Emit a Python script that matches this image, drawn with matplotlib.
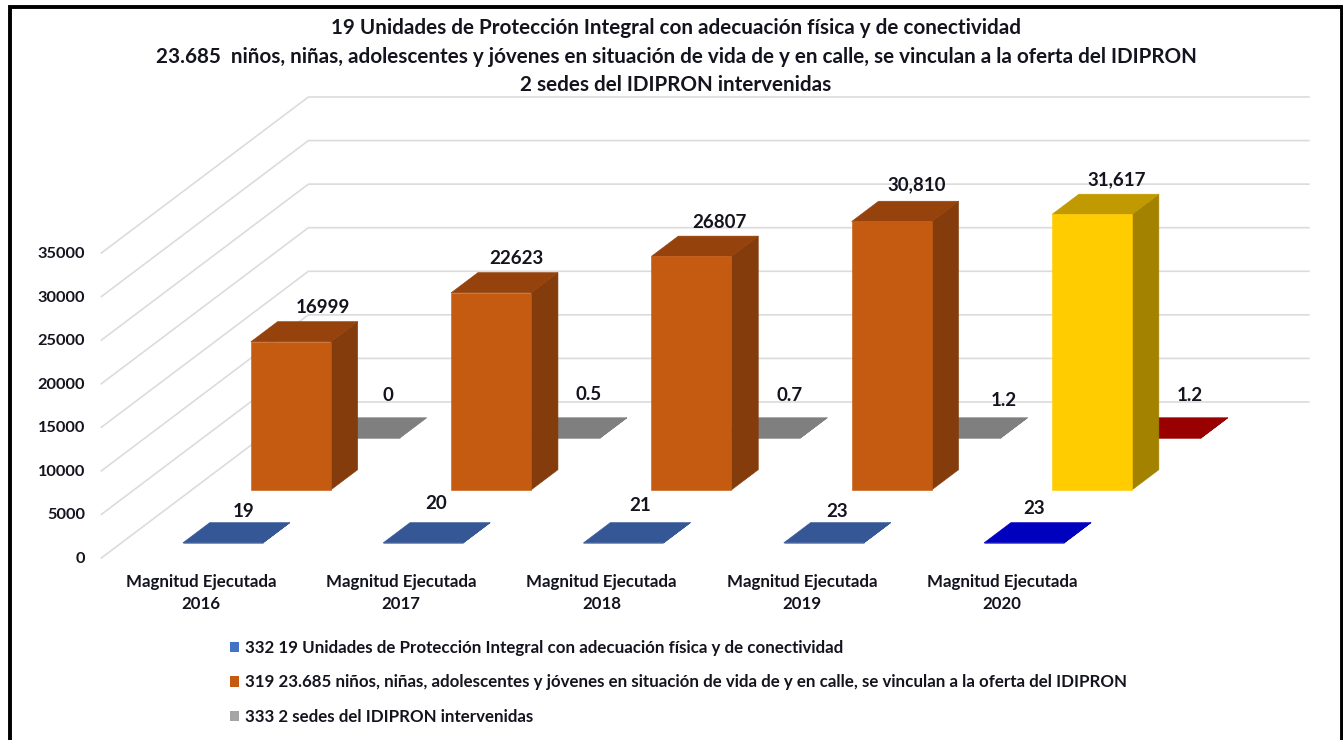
import matplotlib
matplotlib.use("Agg")

import matplotlib.pyplot as plt
from matplotlib.lines import Line2D
from matplotlib.patches import Patch, Polygon

# dane
YEARS = ["2016", "2017", "2018", "2019", "2020"]
SEDES = [0, 0.5, 0.7, 1.2, 1.2]
SEDES_TXT = ["0", "0.5", "0.7", "1.2", "1.2"]
NINOS = [16999, 22623, 26807, 30810, 31617]
NINOS_TXT = ["16999", "22623", "26807", "30,810", "31,617"]
UNIDADES = [19, 20, 21, 23, 23]
UNIDADES_TXT = ["19", "20", "21", "23", "23"]
Y_TICKS = [0, 5000, 10000, 15000, 20000, 25000, 30000, 35000]

TITLE = [
    "19 Unidades de Protección Integral con adecuación física y de conectividad",
    "23.685  niños, niñas, adolescentes y jóvenes en situación de vida de y en calle, se vinculan a la oferta del IDIPRON",
    "2 sedes del IDIPRON intervenidas",
]
LEGEND = [
    "332 19 Unidades de Protección Integral con adecuación física y de conectividad",
    "319 23.685 niños, niñas, adolescentes y jóvenes en situación de vida de y en calle, se vinculan a la oferta del IDIPRON",
    "333 2 sedes del IDIPRON intervenidas",
]

# uklad rzutu ukosnego
W, H = 1343, 740
PX_PER_CAT = 200.3
PX_PER_VAL = 305 / 35000
CAT0_PX = 200.5
FLOOR_Y_PX = 558
DEPTH_X = 207 / PX_PER_CAT
DEPTH_V = 156 / PX_PER_VAL
BAR_W = 80 / PX_PER_CAT
BAR_D = 0.13
ROW_UNIDADES, ROW_NINOS, ROW_SEDES = 0.096, 0.436, 0.769
NUDGE_UNIDADES = 2.5 / PX_PER_CAT

TEXT = "#14141f"
GRID = "#dcdcdc"

# kolory: przod, gora, bok
BLUE = ("#2f5597", "#355796", "#2f5597")
BLUE_HI = ("#0000bf", "#0000bf", "#0000bf")
ORANGE = ("#c55a11", "#95420c", "#843c0c")
YELLOW = ("#ffcc00", "#c09a00", "#a38200")
GRAY = ("#7f7f7f", "#7f7f7f", "#7f7f7f")
RED = ("#990000", "#990000", "#990000")

# przesuniecia etykiet w pikselach (x, y w gore)
OFF_SEDES = [(1, 22), (2, 23), (2, 22), (16, 17), (2, 22)]
OFF_NINOS = [(5, 14), (-2, 14), (1, 14), (-2, 16), (-2, 14)]
OFF_UNIDADES = [(-6, 11), (-14, 19), (-10, 17), (-14, 11), (-17, 14)]


def proj(x, v, d):
    return x + d * DEPTH_X, v + d * DEPTH_V


def draw_bar(ax, cat, value, row, colors, zorder):
    x0, x1 = cat - BAR_W / 2, cat + BAR_W / 2
    d0, d1 = row, row + BAR_D
    front = [proj(x0, 0, d0), proj(x1, 0, d0), proj(x1, value, d0), proj(x0, value, d0)]
    top = [proj(x0, value, d0), proj(x1, value, d0), proj(x1, value, d1), proj(x0, value, d1)]
    side = [proj(x1, 0, d0), proj(x1, 0, d1), proj(x1, value, d1), proj(x1, value, d0)]
    for pts, col in ((side, colors[2]), (top, colors[1]), (front, colors[0])):
        ax.add_patch(Polygon(pts, closed=True, facecolor=col, edgecolor=col, lw=0.4, zorder=zorder))


def bar_label(ax, cat, value, row, txt, off):
    xy = proj(cat, value, row + BAR_D)
    ax.annotate(txt, xy=xy, xytext=off, textcoords="offset pixels", ha="center", va="center",
                fontsize=13.5, fontweight="bold", color=TEXT, zorder=10)


def main():
    plt.rcParams["font.family"] = ["Lato", "DejaVu Sans"]

    fig = plt.figure(figsize=(W / 100, H / 100), dpi=100, facecolor="white")
    ax = fig.add_axes([0, 0, 1, 1])
    ax.set_xlim(-CAT0_PX / PX_PER_CAT, (W - CAT0_PX) / PX_PER_CAT)
    ax.set_ylim((FLOOR_Y_PX - H) / PX_PER_VAL, FLOOR_Y_PX / PX_PER_VAL)
    ax.set_axis_off()

    left = -0.495
    right = len(YEARS) - 0.5

    # siatka: sciana boczna i tylna
    for v in Y_TICKS:
        xs, ys = zip(proj(left, v, 0), proj(left, v, 1), proj(right, v, 1))
        ax.plot(xs, ys, color=GRID, lw=1.2, zorder=1, solid_joinstyle="miter")
        ax.annotate(f"{v}", xy=proj(left, v, 0), xytext=(-16, -1), textcoords="offset pixels",
                    ha="right", va="center", fontsize=11.8, fontweight="bold", color=TEXT)

    for i, year in enumerate(YEARS):
        last = i == len(YEARS) - 1
        draw_bar(ax, i, SEDES[i], ROW_SEDES, RED if last else GRAY, 2)
        draw_bar(ax, i, NINOS[i], ROW_NINOS, YELLOW if last else ORANGE, 3)
        draw_bar(ax, i + NUDGE_UNIDADES, UNIDADES[i], ROW_UNIDADES, BLUE_HI if last else BLUE, 4)

        bar_label(ax, i, SEDES[i], ROW_SEDES, SEDES_TXT[i], OFF_SEDES[i])
        bar_label(ax, i, NINOS[i], ROW_NINOS, NINOS_TXT[i], OFF_NINOS[i])
        bar_label(ax, i + NUDGE_UNIDADES, UNIDADES[i], ROW_UNIDADES, UNIDADES_TXT[i], OFF_UNIDADES[i])

        ax.annotate(f"Magnitud Ejecutada\n{year}", xy=proj(i, 0, 0), xytext=(0.5, -35),
                    textcoords="offset pixels", ha="center", va="center", fontsize=12.2,
                    fontweight="bold", color=TEXT, linespacing=1.4)

    for line, y_px in zip(TITLE, (28, 57, 85)):
        fig.text(676 / W, 1 - y_px / H, line, ha="center", va="center",
                 fontsize=14.9, fontweight="bold", color=TEXT)

    handles = [Patch(facecolor=c) for c in ("#4472c4", "#c55a11", "#a5a5a5")]
    fig.legend(handles, LEGEND, loc="upper left", bbox_to_anchor=(230 / W, 1 - 640 / H),
               frameon=False, handlelength=0.56, handleheight=0.56, borderpad=0, borderaxespad=0,
               handletextpad=0.3, labelspacing=1.09, labelcolor=TEXT,
               prop={"weight": "bold", "size": 12.2})

    # czarna ramka (dolna krawedz poza obrazem)
    for xs, ys in (((9.5, 9.5, 1341.5, 1341.5), (745, 7, 7, 745)),):
        fig.add_artist(Line2D([x / W for x in xs], [1 - y / H for y in ys],
                              color="black", lw=2.8, solid_joinstyle="miter"))

    fig.savefig("out.png", dpi=100, facecolor="white")


if __name__ == "__main__":
    main()
